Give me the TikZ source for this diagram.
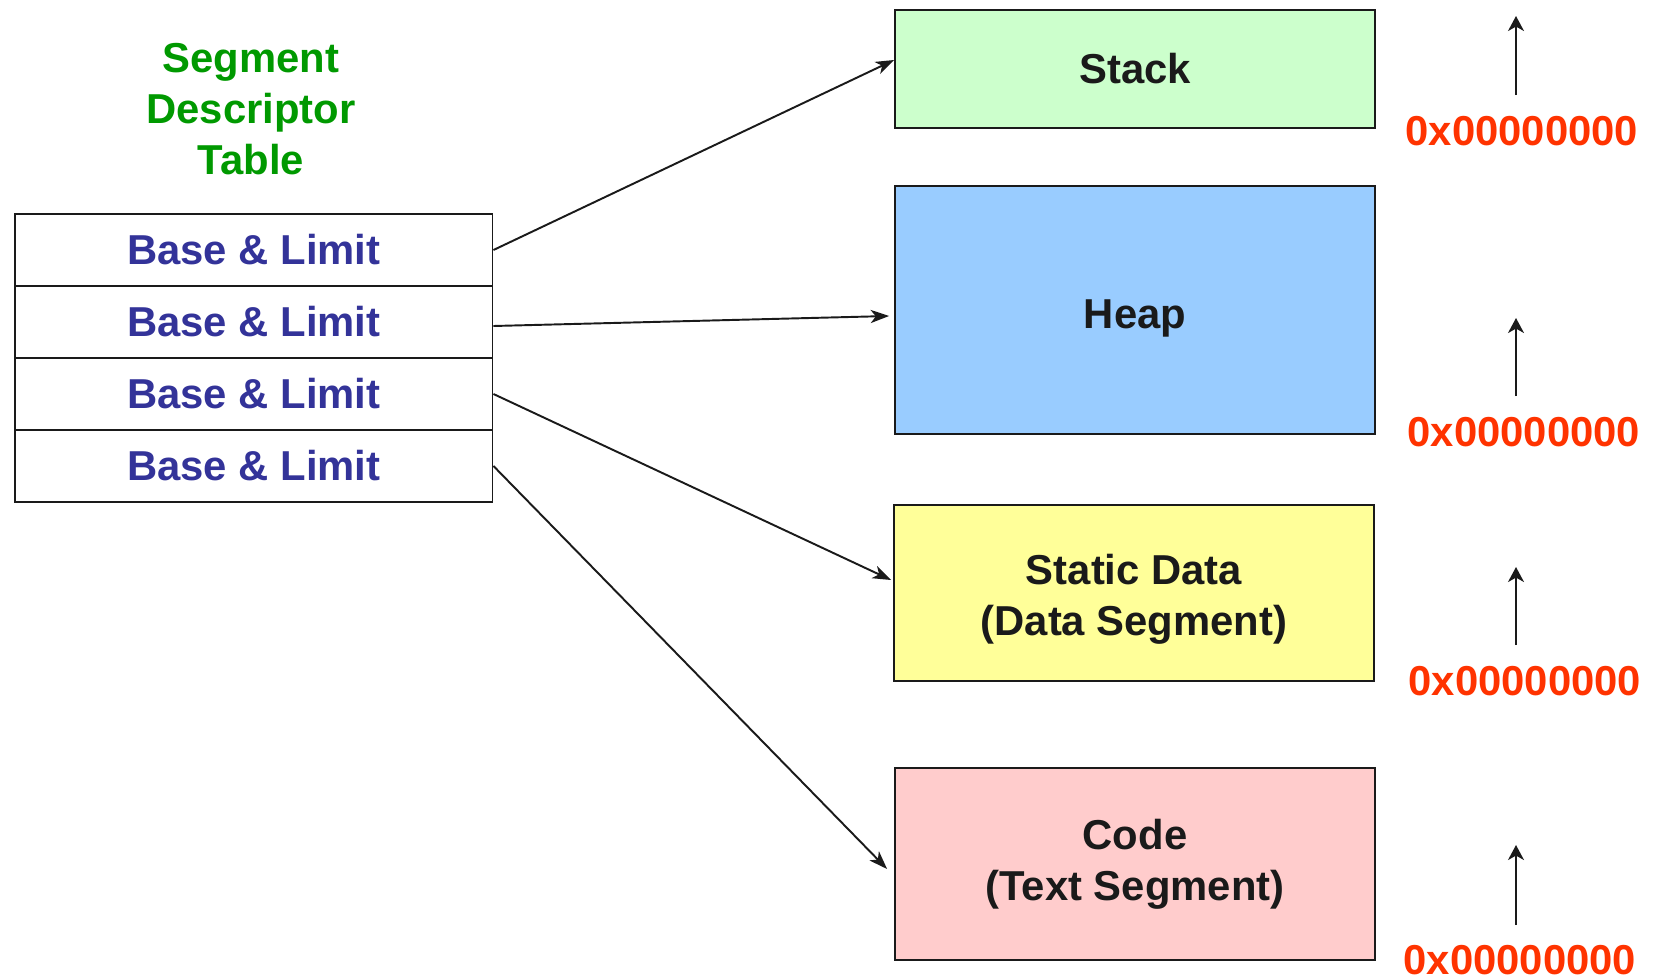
\documentclass[tikz,border=0pt]{standalone}
\usepackage{fontspec}
\setmainfont{Liberation Sans}
\usetikzlibrary{arrows.meta}
\definecolor{titlegreen}{HTML}{009900}
\definecolor{rowblue}{HTML}{333399}
\definecolor{addrred}{HTML}{FF3300}
\definecolor{stackfill}{HTML}{CCFFCC}
\definecolor{heapfill}{HTML}{99CCFF}
\definecolor{datafill}{HTML}{FFFF99}
\definecolor{codefill}{HTML}{FFCCCC}
\definecolor{inkdark}{HTML}{1A1A1A}
\begin{document}
\begin{tikzpicture}[x=0.02cm,y=-0.02cm,
  big/.style={font=\fontsize{23.8pt}{28.9pt}\selectfont\bfseries},
  rowbox/.style={big,draw=inkdark,line width=1.1pt,fill=white,text=rowblue,minimum width=9.55cm,minimum height=1.44cm,inner sep=0pt},
  segbox/.style={big,draw=inkdark,line width=1.1pt,text=inkdark,minimum width=9.6cm,inner sep=0pt,align=center},
  segtext/.style={big,text=inkdark,align=center},
  link/.style={draw=inkdark,line width=1.1pt,-{Stealth[length=10.5pt,width=7.5pt,inset=3pt]}},
  uparrow/.style={draw=inkdark,line width=1.5pt,-{Stealth[length=8.5pt,width=9pt,inset=2.5pt]}},
  addr/.style={big,text=addrred},
  title/.style={big,text=titlegreen,align=center}]
\useasboundingbox (0,0) rectangle (1661,977);

\node[title] (title) at (251,109) {Segment\\Descriptor\\Table};

\node[rowbox] (r1) at (253.8,250) {Base \& Limit};
\node[rowbox] (r2) at (253.8,322) {Base \& Limit};
\node[rowbox] (r3) at (253.8,394) {Base \& Limit};
\node[rowbox] (r4) at (253.8,466) {Base \& Limit};

\node[segbox,fill=stackfill,minimum height=2.36cm] (stack) at (1135,69) {Stack};
\node[segbox,fill=heapfill,minimum height=4.96cm,
  label={[segtext,yshift=-0.17cm]center:Heap}] (heap) at (1135,310) {};
\node[segbox,fill=datafill,minimum height=3.52cm,
  label={[segtext,yshift=-0.12cm]center:Static Data\\(Data Segment)}] (data) at (1134,593) {};
\node[segbox,fill=codefill,minimum height=3.84cm] (code) at (1135,864) {Code\\(Text Segment)};

\draw[link] (r1.east) -- ([yshift=0.18cm]stack.west);
\draw[link] ([yshift=-0.08cm]r2.east) -- ([xshift=-0.1cm,yshift=-0.12cm]heap.west);
\draw[link] (r3.east) -- ([xshift=-0.04cm,yshift=0.26cm]data.west);
\draw[link] (r4.east) -- ([xshift=-0.14cm,yshift=-0.1cm]code.west);

\node[addr] (a1) at (1522,131) {0x00000000};
\node[addr] (a2) at (1524,432) {0x00000000};
\node[addr] (a3) at (1525,681) {0x00000000};
\node[addr] (a4) at (1520,960) {0x00000000};

\coordinate (u1) at (1516,16);
\coordinate (u2) at (1516,318);
\coordinate (u3) at (1516,567);
\coordinate (u4) at (1516,845);
\draw[uparrow] (1516,95) -- (u1);
\draw[uparrow] (1516,396) -- (u2);
\draw[uparrow] (1516,645) -- (u3);
\draw[uparrow] (1516,925) -- (u4);
\end{tikzpicture}
\end{document}
